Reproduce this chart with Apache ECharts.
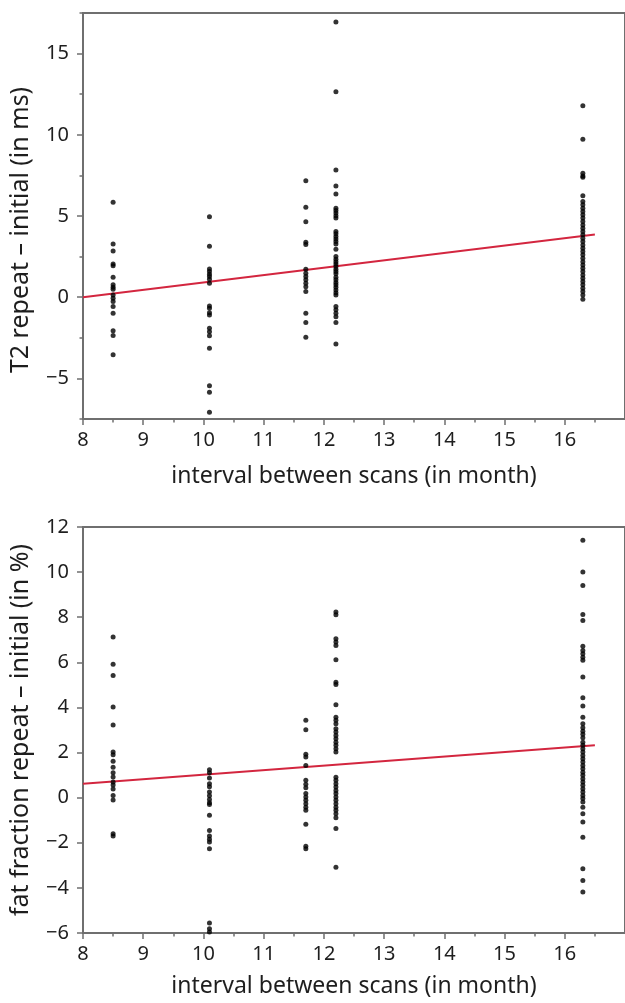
<!DOCTYPE html>
<html>
<head>
<meta charset="UTF-8">
<title>T2 and fat fraction change vs scan interval</title>
<script src="https://cdn.jsdelivr.net/npm/echarts@6/dist/echarts.min.js"></script>
<style>
  html, body { margin: 0; padding: 0; background: #fff; }
  #chart { width: 625px; height: 1003px; }
</style>
</head>
<body>
<div id="chart"></div>
<script>
// interval between scans (months) for each group of patients
const intervals = [8.5, 10.1, 11.7, 12.2, 16.3];

// top panel: T2 repeat - initial (ms), one array per interval
const t2At85 = [5.85, 3.28, 2.85, 2.05, 1.93, 1.23, 0.76, 0.62, 0.49, 0.14, -0.06, -0.27, -0.58, -0.99, -2.06, -2.36, -3.55];
const t2At101 = [4.95, 3.14, 1.73, 1.58, 1.42, 1.27, 1.11, 0.86, -0.54, -0.68, -0.95, -1.09, -1.91, -2.12, -2.38, -3.14, -5.45, -5.85, -7.09];
const t2At117 = [7.17, 5.54, 4.64, 3.39, 3.24, 1.72, 1.48, 1.27, 1.07, 0.86, 0.65, 0.35, -0.99, -1.56, -2.46];
const t2At122 = [16.94, 12.65, 7.84, 6.84, 6.35, 5.48, 5.34, 5.18, 5.01, 4.87, 4.04, 3.90, 3.73, 3.59, 3.43, 3.28, 2.96,
  2.50, 2.34, 2.19, 2.05, 1.89, 1.72, 1.58, 1.44, 1.23, 1.07, 0.90, 0.76, 0.62, 0.45, 0.28, 0.14, -0.58, -0.78, -0.99, -1.20, -1.56, -2.88];
const t2At163 = [11.79, 9.73, 7.64, 7.47, 7.39, 6.24, 5.89, 5.69, 5.48, 5.27, 5.07, 4.87, 4.66, 4.45, 4.25, 4.04, 3.84, 3.63,
  3.43, 3.22, 3.02, 2.81, 2.61, 2.40, 2.19, 1.99, 1.79, 1.58, 1.37, 1.17, 0.96, 0.76, 0.55, 0.35, 0.14, -0.12];
const t2Fit = [[8, 0.0], [16.5, 3.86]];

// bottom panel: fat fraction repeat - initial (%)
const ffAt85 = [7.12, 5.92, 5.42, 4.02, 3.22, 2.02, 1.90, 1.61, 1.35, 1.10, 0.92, 0.69, 0.56, 0.38, 0.10, -0.10, -1.60, -1.70];
const ffAt101 = [1.24, 1.10, 0.87, 0.62, 0.48, 0.25, 0.08, -0.08, -0.22, -0.30, -0.78, -1.46, -1.70, -1.84, -1.97, -2.26, -5.56, -5.81, -5.96];
const ffAt117 = [3.43, 3.01, 1.92, 1.80, 1.43, 0.77, 0.59, 0.44, 0.18, 0.03, -0.12, -0.27, -0.42, -0.56, -1.18, -2.15, -2.26];
const ffAt122 = [8.23, 8.11, 7.05, 6.90, 6.75, 6.12, 5.12, 5.02, 4.12, 3.57, 3.43, 3.28, 3.06, 2.91, 2.76, 2.61, 2.46, 2.32, 2.17, 2.02,
  0.91, 0.77, 0.62, 0.47, 0.32, 0.18, 0.03, -0.12, -0.27, -0.42, -0.56, -0.71, -0.89, -1.37, -3.08];
const ffAt163 = [11.41, 10.0, 9.41, 8.12, 7.86, 6.71, 6.53, 6.38, 6.23, 6.09, 5.35, 4.43, 4.06, 3.57, 3.28, 3.10, 2.95, 2.81, 2.66,
  2.46, 2.32, 2.17, 2.02, 1.87, 1.73, 1.58, 1.43, 1.28, 1.13, 0.99, 0.84, 0.69, 0.55, 0.40, 0.25, 0.10, -0.04, -0.19, -0.42,
  -0.71, -1.08, -1.75, -3.15, -3.67, -4.18];
const ffFit = [[8, 0.62], [16.5, 2.32]];

// tick values
const xMajor = [8, 9, 10, 11, 12, 13, 14, 15, 16];
const xMinor = [8.5, 9.5, 10.5, 11.5, 12.5, 13.5, 14.5, 15.5, 16.5];
const t2Major = [-5, 0, 5, 10, 15];
const t2Minor = [-7.5, -2.5, 2.5, 7.5, 12.5, 17.5];
const ffMajor = [-6, -4, -2, 0, 2, 4, 6, 8, 10, 12];

const FONT = 'Noto Sans';
const AXIS_GRAY = '#6f6f6f';
const TEXT = '#1e1e1e';
const RED = '#d3263f';

function toPoints(values, x) {
  return values.map(v => [x, v]);
}

function minus(v) {
  return v < 0 ? '\u2212' + Math.abs(v) : String(v);
}

function xAxes(grid, nameGap) {
  return [
    {
      gridIndex: grid, type: 'value', position: 'bottom', min: 8, max: 17,
      name: 'interval between scans (in month)', nameLocation: 'middle', nameGap: nameGap,
      nameTextStyle: { fontFamily: FONT, fontSize: 23, color: TEXT },
      axisLine: { show: true, onZero: false, lineStyle: { color: AXIS_GRAY, width: 2 } },
      axisTick: { show: true, customValues: xMajor, length: 6, lineStyle: { color: AXIS_GRAY, width: 1.5 } },
      axisLabel: { customValues: xMajor, margin: 11, fontFamily: FONT, fontSize: 20, color: TEXT },
      splitLine: { show: false }
    },
    {
      gridIndex: grid, type: 'value', position: 'bottom', min: 8, max: 17,
      axisLine: { show: false, onZero: false },
      axisTick: { show: true, customValues: xMinor, length: 3.5, lineStyle: { color: AXIS_GRAY, width: 1.5 } },
      axisLabel: { show: false },
      splitLine: { show: false }
    }
  ];
}

function yAxes(grid, name, min, max, major, minor, namePad) {
  const list = [
    {
      gridIndex: grid, type: 'value', position: 'left', min: min, max: max,
      name: name, nameLocation: 'middle', nameGap: 50,
      nameTextStyle: { fontFamily: FONT, fontSize: 25, color: TEXT, padding: namePad },
      axisLine: { show: true, onZero: false, lineStyle: { color: AXIS_GRAY, width: 2 } },
      axisTick: { show: true, customValues: major, length: 6, lineStyle: { color: AXIS_GRAY, width: 1.5 } },
      axisLabel: { customValues: major, margin: 14, fontFamily: FONT, fontSize: 20, color: TEXT, formatter: minus },
      splitLine: { show: false }
    }
  ];
  if (minor) {
    list.push({
      gridIndex: grid, type: 'value', position: 'left', min: min, max: max,
      axisLine: { show: false, onZero: false },
      axisTick: { show: true, customValues: minor, length: 3.5, lineStyle: { color: AXIS_GRAY, width: 1.5 } },
      axisLabel: { show: false },
      splitLine: { show: false }
    });
  }
  return list;
}

function scatter(values, x, xi, yi) {
  return {
    type: 'scatter', xAxisIndex: xi, yAxisIndex: yi,
    data: toPoints(values, x),
    symbol: 'circle', symbolSize: 5,
    itemStyle: { color: '#000' },
    silent: true
  };
}

function fitLine(points, xi, yi) {
  return {
    type: 'line', xAxisIndex: xi, yAxisIndex: yi,
    data: points, symbol: 'none',
    lineStyle: { color: RED, width: 2 },
    silent: true, z: 1
  };
}

const topGroups = [t2At85, t2At101, t2At117, t2At122, t2At163];
const bottomGroups = [ffAt85, ffAt101, ffAt117, ffAt122, ffAt163];

const series = [fitLine(t2Fit, 0, 0), fitLine(ffFit, 2, 2)];
topGroups.forEach((g, i) => series.push(scatter(g, intervals[i], 0, 0)));
bottomGroups.forEach((g, i) => series.push(scatter(g, intervals[i], 2, 2)));

const chart = echarts.init(document.getElementById('chart'), null, { renderer: 'canvas' });
chart.setOption({
  animation: false,
  backgroundColor: '#fff',
  grid: [
    { left: 83, top: 13, width: 551, height: 406, show: true, borderColor: AXIS_GRAY, borderWidth: 2 },
    { left: 83, top: 527, width: 551, height: 406, show: true, borderColor: AXIS_GRAY, borderWidth: 2 }
  ],
  xAxis: [...xAxes(0, 46), ...xAxes(1, 42)],
  yAxis: [
    ...yAxes(0, 'T2 repeat \u2013 initial (in ms)', -7.5, 17.5, t2Major, t2Minor, [0, 28, 0, 0]),
    ...yAxes(1, 'fat fraction repeat \u2013 initial (in %)', -6, 12, ffMajor, null, 0)
  ],
  series: series
});
</script>
</body>
</html>
